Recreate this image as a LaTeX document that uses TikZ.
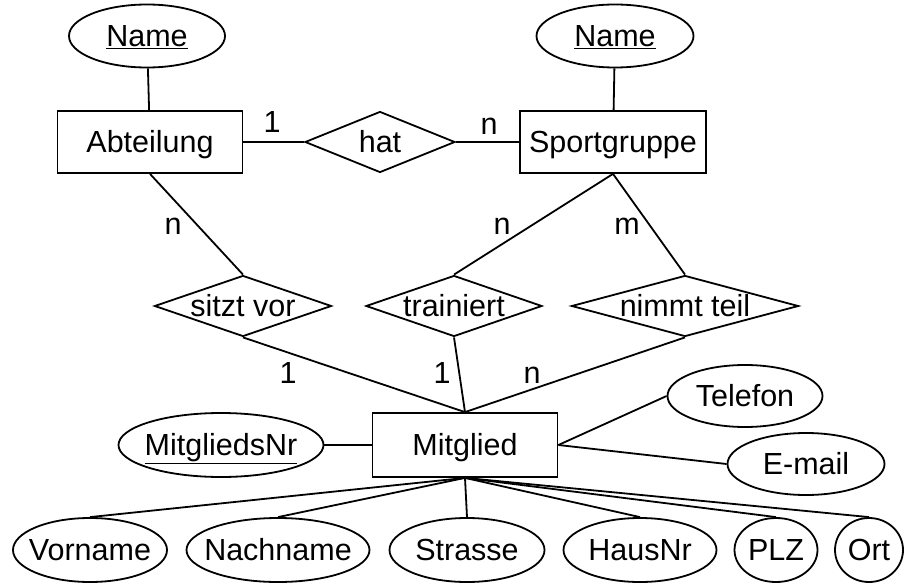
\documentclass[tikz,border=0pt]{standalone}
\usepackage{fontspec}
\setmainfont{Liberation Sans}
\usetikzlibrary{shapes.geometric}
\newcommand{\dtext}[1]{\makebox[0pt]{\smash{\raisebox{-0.33em}{#1}}}}
\begin{document}
\begin{tikzpicture}[x=1pt,y=-1pt,
  every node/.style={font=\fontsize{30.5}{36}\selectfont, inner sep=0pt},
  ent/.style={draw, line width=1.8pt, rectangle, minimum width=185pt, minimum height=62pt},
  attr/.style={draw, line width=1.8pt, ellipse, minimum height=63pt},
  rel/.style={draw, line width=1.8pt, diamond, minimum height=61pt},
  card/.style={anchor=base},
  conn/.style={line width=1.8pt}]
\useasboundingbox (0,0) rectangle (905,583);
% entities
\node[ent] (abt) at (150,142) {\dtext{Abteilung}};
\node[ent, minimum width=186pt] (spg) at (613,142) {\dtext{Sportgruppe}};
\node[ent, minimum height=64pt] (mit) at (465,445) {\dtext{Mitglied}};
% relationships
\node[rel, minimum width=150pt] (hat) at (380,142) {\dtext{hat}};
\node[rel, minimum width=177pt] (sitzt) at (243,306) {\dtext{sitzt vor}};
\node[rel, minimum width=176pt] (trai) at (454,306) {\dtext{trainiert}};
\node[rel, minimum width=227pt] (nimmt) at (685,306) {\dtext{nimmt teil}};
% attributes
\node[attr, minimum width=156pt] (nameA) at (147,36) {\dtext{\underline{Name}}};
\node[attr, minimum width=157pt] (nameS) at (615,36) {\dtext{\underline{Name}}};
\node[attr, minimum width=205pt, minimum height=64pt] (mnr) at (221,445) {\dtext{\underline{MitgliedsNr}}};
\node[attr, minimum width=155pt, minimum height=62pt] (tel) at (745,396) {\dtext{Telefon}};
\node[attr, minimum width=157pt, minimum height=62pt] (mail) at (806,464) {\dtext{E-mail}};
\node[attr, minimum width=154pt, minimum height=64pt] (vor) at (90,550) {\dtext{Vorname}};
\node[attr, minimum width=183pt, minimum height=64pt] (nach) at (278,550) {\dtext{Nachname}};
\node[attr, minimum width=155pt, minimum height=64pt] (str) at (467,550) {\dtext{Strasse}};
\node[attr, minimum width=153pt, minimum height=64pt] (haus) at (640,550) {\dtext{HausNr}};
\node[attr, minimum width=83pt, minimum height=64pt] (plz) at (776,550) {\dtext{PLZ}};
\node[attr, minimum width=68pt, minimum height=64pt] (ort) at (869,550) {\dtext{Ort}};
% connectors
\draw[conn] (nameA) -- (abt);
\draw[conn] (nameS) -- (spg);
\draw[conn] (abt) -- (hat);
\draw[conn] (hat) -- (spg);
\draw[conn] (abt.south) -- (sitzt.north);
\draw[conn] (spg.south) -- (trai.north);
\draw[conn] (spg.south) -- (nimmt.north);
\draw[conn] (sitzt.south) -- (mit.north);
\draw[conn] (trai.south) -- (mit.north);
\draw[conn] (nimmt.south) -- (mit.north);
\draw[conn] (mnr) -- (mit);
\draw[conn] (mit.east) -- (tel.west);
\draw[conn] (mit.east) -- (mail.west);
\draw[conn] (mit.south) -- (vor.north);
\draw[conn] (mit.south) -- (nach.north);
\draw[conn] (mit.south) -- (str.north);
\draw[conn] (mit.south) -- (haus.north);
\draw[conn] (mit.south) -- (plz.north);
\draw[conn] (mit.south) -- (ort.north);
% cardinalities
\node[card] (c1) at (272,133) {1};
\node[card] (c2) at (489,135) {n};
\node[card] (c3) at (173,234) {n};
\node[card] (c4) at (502,234) {n};
\node[card] (c5) at (627,234) {m};
\node[card] (c6) at (288,383) {1};
\node[card] (c7) at (442,383) {1};
\node[card] (c8) at (532,383) {n};
\end{tikzpicture}
\end{document}
